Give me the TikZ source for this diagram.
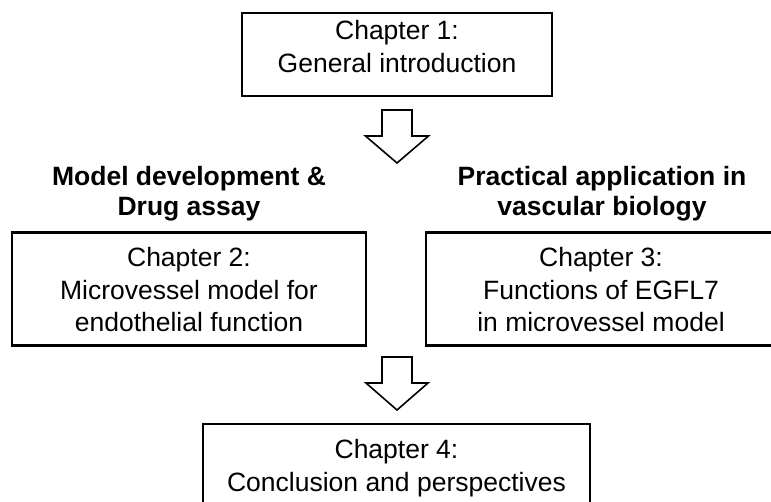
\documentclass[tikz,border=0pt]{standalone}
\usepackage{fontspec}
\setmainfont{Liberation Sans}
\begin{document}
\begin{tikzpicture}[x=1pt,y=-1pt,
  box/.style={draw, line width=2.6pt, inner sep=0pt},
  txt/.style={align=center, font=\fontsize{26.5}{32.5}\selectfont, text depth=0pt, inner sep=0pt},
  head/.style={align=center, font=\fontsize{26.5}{30}\selectfont\bfseries, text depth=0pt, inner sep=0pt},
  blockarrow/.style={draw, line width=1.6pt, fill=white, line join=miter}]
\clip (0,0) rectangle (771,501);
% boxes
\node[box, minimum width=310pt, minimum height=83pt] (c1) at (397,54.5) {};
\node[box, minimum width=354pt, minimum height=113pt] (c2) at (189,289) {};
\node[box, minimum width=350pt, minimum height=113pt] (c3) at (601,289) {};
\node[box, minimum width=387pt, minimum height=100pt] (c4) at (396.5,474) {};
% texts
\node[txt] (t1) at (397,46.5) {Chapter 1:\\General introduction};
\node[txt] (t2) at (189,289.5) {Chapter 2:\\Microvessel model for\\endothelial function};
\node[txt] (t3) at (601,289.5) {Chapter 3:\\Functions of EGFL7\\in microvessel model};
\node[txt] (t4) at (396.5,465.5) {Chapter 4:\\Conclusion and perspectives};
% headings
\node[head] (h2) at (189,190.5) {Model development \&\\Drug assay};
\node[head] (h3) at (602,190.5) {Practical application in\\vascular biology};
% block arrows
\draw[blockarrow] (382,110) -- (412,110) -- (412,136) -- (428.5,136) -- (397,163) -- (365.5,136) -- (382,136) -- cycle;
\draw[blockarrow] (382,357) -- (412,357) -- (412,383) -- (428,383) -- (397,410) -- (366,383) -- (382,383) -- cycle;
\end{tikzpicture}
\end{document}
